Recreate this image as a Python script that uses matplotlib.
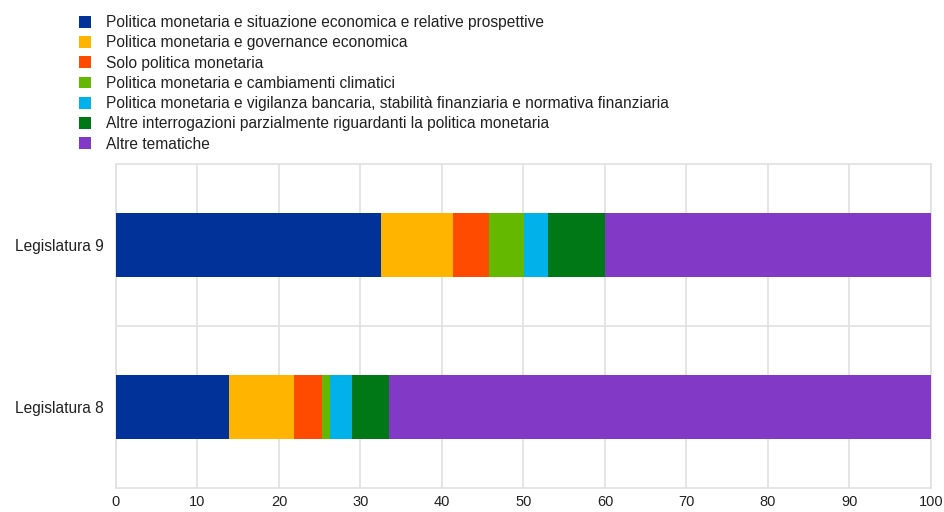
import matplotlib
matplotlib.use("Agg")
import matplotlib.pyplot as plt
import numpy as np

plt.rcParams['font.family'] = ['Liberation Sans', 'DejaVu Sans']

categories = ["Legislatura 8", "Legislatura 9"]
series_labels = [
    "Politica monetaria e situazione economica e relative prospettive",
    "Politica monetaria e governance economica",
    "Solo politica monetaria",
    "Politica monetaria e cambiamenti climatici",
    "Politica monetaria e vigilanza bancaria, stabilità finanziaria e normativa finanziaria",
    "Altre interrogazioni parzialmente riguardanti la politica monetaria",
    "Altre tematiche",
]
# values per series: [Legislatura 8, Legislatura 9]
s_pol_situazione = [13.9, 32.5]
s_pol_governance = [7.9, 8.8]
s_solo_politica = [3.5, 4.5]
s_pol_clima = [0.9, 4.3]
s_pol_vigilanza = [2.8, 2.9]
s_altre_interrog = [4.5, 7.0]
s_altre_tematiche = [66.5, 40.0]
series_values = [s_pol_situazione, s_pol_governance, s_solo_politica, s_pol_clima,
                 s_pol_vigilanza, s_altre_interrog, s_altre_tematiche]
colors = ["#003299", "#FFB400", "#FF4B00", "#65B800", "#00B1EA", "#007816", "#8139C6"]
xticks = [0, 10, 20, 30, 40, 50, 60, 70, 80, 90, 100]

fig = plt.figure(figsize=(9.45, 5.12), dpi=100)
ax = fig.add_axes([116/945, 1-488/512, (931-116)/945, (488-164)/512])

y = np.arange(len(categories))
left = np.zeros(len(categories))
handles = []
for vals, col, lab in zip(series_values, colors, series_labels):
    b = ax.barh(y, vals, left=left, height=0.39, color=col, label=lab, linewidth=0, zorder=3)
    handles.append(b)
    left = left + np.array(vals)

ax.set_xlim(0, 100)
ax.set_ylim(-0.5, 1.5)
ax.set_xticks(xticks)
ax.set_xticklabels([str(t) for t in xticks])
ax.set_yticks(y)
ax.set_yticklabels(categories)
ax.set_yticks([0.5], minor=True)
ax.grid(axis='x', which='major', color='#e0e0e0', linewidth=1.2, zorder=0)
ax.grid(axis='y', which='minor', color='#e0e0e0', linewidth=1.2, zorder=0)
ax.tick_params(axis='both', which='both', length=0, colors='#222222')
ax.tick_params(axis='x', pad=5, labelsize=10.5)
ax.tick_params(axis='y', pad=8.5, labelsize=11.2)
for sp in ax.spines.values():
    sp.set_color('#e0e0e0')
    sp.set_linewidth(1.2)

fig.text(0.0, 1 + 3/512, "(percentuali)", fontsize=10.5, color='#8899bb', va='baseline', ha='left')

leg = fig.legend(handles=handles, labels=series_labels, loc='upper left',
                 bbox_to_anchor=(79/945, 1 - 15/512), frameon=False, fontsize=11.2,
                 handlelength=0.8, handleheight=0.8, handletextpad=0.95,
                 labelspacing=0.34, borderaxespad=0, borderpad=0)
for t in leg.get_texts():
    t.set_color('#222222')

fig.savefig("out.png", dpi=100)
